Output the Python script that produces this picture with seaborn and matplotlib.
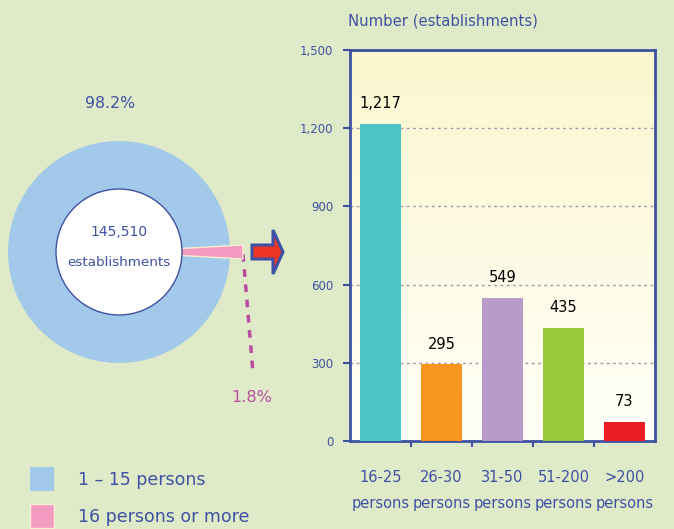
import numpy as np
import pandas as pd
import seaborn as sns
import matplotlib.pyplot as plt
from matplotlib.patches import Circle, FancyArrow
from matplotlib.colors import LinearSegmentedColormap

# data
size_groups = ["1 – 15 persons", "16 persons or more"]
shares = [98.2, 1.8]
total_est = 145510

categories = ["16-25\npersons", "26-30\npersons", "31-50\npersons",
              "51-200\npersons", ">200\npersons"]
counts = [1217, 295, 549, 435, 73]
bar_colors = ["#4bc4c8", "#f7951f", "#b89bc9", "#9aca3c", "#ec1c24"]

BLUE = "#3f51a3"
PINK_TXT = "#b94ea0"
BG = "#dfeac8"

sns.set_theme(style="white")
plt.rcParams["font.family"] = ["DejaVu Sans"]

fig = plt.figure(figsize=(6.74, 5.29), dpi=100, facecolor=BG)

# overlay axes in pixel units for the donut, arrow and legend
ov = fig.add_axes([0, 0, 1, 1], zorder=0)
ov.set_facecolor("none")

wedges, _ = ov.pie([shares[1], shares[0]], colors=["#f49bc1", "#a2c9ea"],
                   startangle=-shares[1] / 100 * 360 / 2,
                   radius=111, center=(119, 252),
                   wedgeprops=dict(edgecolor="none", linewidth=0))
wedges[0].set_radius(124)
wedges[0].set_edgecolor("#f6f0d0")
wedges[0].set_linewidth(1)
wedges[0].set_zorder(3)
ov.add_patch(Circle((119, 252), 63, facecolor="white", edgecolor=BLUE, lw=1, zorder=5))
ov.set_xlim(0, 674)
ov.set_ylim(529, 0)
ov.set_aspect("auto")
ov.axis("off")

ov.text(119, 232, f"{total_est:,}", ha="center", va="center", fontsize=10, color=BLUE, zorder=6)
ov.text(119, 262, "establishments", ha="center", va="center", fontsize=9.7, color=BLUE, zorder=6)
ov.text(110, 104, f"{shares[0]}%", ha="center", va="center", fontsize=11.3, color=BLUE)
ov.text(252, 398, f"{shares[1]}%", ha="center", va="center", fontsize=11.5, color=PINK_TXT)

# dotted leader to the small share
ov.plot([243, 253], [254, 373], color=PINK_TXT, lw=2.5, ls=(0, (2.2, 2.2)))

# block arrow pointing at the bar chart
ov.add_patch(FancyArrow(252, 252, 31, 0, width=14, head_width=44, head_length=10,
                        length_includes_head=True, facecolor="#ee3524",
                        edgecolor=BLUE, lw=2.2, zorder=6))

ov.legend([wedges[1], wedges[0]], size_groups, loc="upper left",
          bbox_to_anchor=(30 / 674, 1 - 467 / 529), frameon=False,
          fontsize=12.5, labelcolor=BLUE, handlelength=1.38, handleheight=1.75,
          handletextpad=1.4, labelspacing=0.75, borderpad=0, borderaxespad=0)

# bar chart
ax = fig.add_axes([350 / 674, 1 - 441 / 529, 305 / 674, 391 / 529], zorder=1)
grad = np.linspace(0, 1, 256).reshape(-1, 1)
cmap = LinearSegmentedColormap.from_list("bg", ["#fcf7cf", "#fffff8"])
ax.imshow(grad, cmap=cmap, aspect="auto", extent=(-0.5, 4.5, 0, 1500),
          origin="upper", zorder=0)
ax.set_xlim(-0.5, 4.5)
ax.set_ylim(0, 1500)

df = pd.DataFrame({"group": categories, "count": counts})
sns.barplot(data=df, x="group", y="count", hue="group", palette=bar_colors,
            legend=False, width=0.66, saturation=1, linewidth=0, ax=ax, zorder=3)
ax.set_xlim(-0.5, 4.5)
ax.set_ylim(0, 1500)
for cont, v in zip(ax.containers, counts):
    ax.bar_label(cont, labels=[f"{v:,}"], padding=9, fontsize=10.5, color="black")

ax.set_yticks([0, 300, 600, 900, 1200, 1500])
ax.set_yticklabels([f"{t:,}" for t in [0, 300, 600, 900, 1200, 1500]])
for y in [300, 600, 900, 1200]:
    ax.axhline(y, color="#9a9aa8", lw=1, ls=(0, (2, 2.5)), zorder=1)

ax.set_xlabel("")
ax.set_ylabel("")
ax.tick_params(axis="y", colors=BLUE, labelsize=8.5, length=5, width=1.5,
               direction="out", pad=7, left=True)
ax.tick_params(axis="x", which="major", length=0, labelsize=10.5,
               labelcolor=BLUE, pad=21)
ax.set_xticks([0.5, 1.5, 2.5, 3.5], minor=True)
ax.tick_params(axis="x", which="minor", length=4, width=1.5, color=BLUE,
               direction="out", bottom=True)
for lab in ax.get_xticklabels():
    lab.set_linespacing(1.9)
for sp in ax.spines.values():
    sp.set_visible(True)
    sp.set_color(BLUE)
    sp.set_linewidth(2)

fig.text(348 / 674, 1 - 21 / 529, "Number (establishments)", fontsize=10.7,
         color=BLUE, ha="left", va="center")

fig.savefig("out.png", dpi=100, facecolor=BG)
